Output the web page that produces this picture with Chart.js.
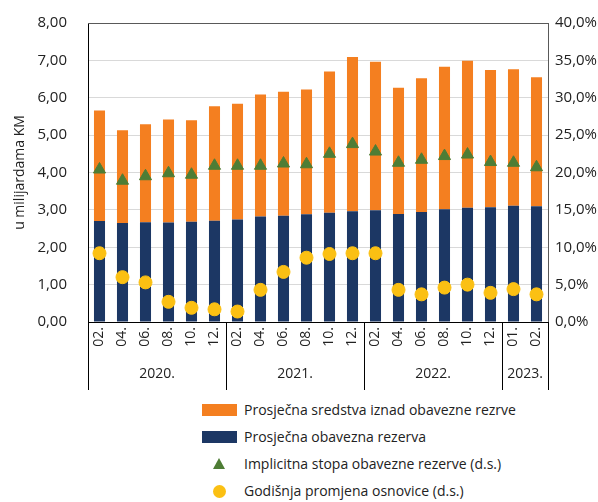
<!DOCTYPE html>
<html>
<head>
<meta charset="utf-8">
<script src="https://cdn.jsdelivr.net/npm/chart.js@4.4.1/dist/chart.umd.min.js"></script>
<style>
  body { margin: 0; background: #fff; font-family: "Open Sans", sans-serif; }
  #wrap { position: relative; width: 598px; height: 502px; }
  #chart { position: absolute; left: 0; top: 0; }
  .leg { position: absolute; left: 0; height: 20px; font-size: 14px; color: #222; line-height: 20px; white-space: nowrap; }
  .leg span.txt { position: absolute; left: 244px; top: 0; }
  .box { position: absolute; left: 202px; top: 4px; width: 35px; height: 12px; }
  .tri { position: absolute; left: 213px; top: 4px; width: 0; height: 0;
         border-left: 6px solid transparent; border-right: 6px solid transparent; border-bottom: 11px solid #4E7D35; }
  .dot { position: absolute; left: 213px; top: 4px; width: 13px; height: 13px; border-radius: 50%; background: #FBC013; }
</style>
</head>
<body>
<div id="wrap">
  <canvas id="chart" width="598" height="400"></canvas>
  <div class="leg" style="top:400px"><div class="box" style="background:#F47F20"></div><span class="txt">Prosječna sredstva iznad obavezne rezrve</span></div>
  <div class="leg" style="top:427px"><div class="box" style="background:#1C3764"></div><span class="txt">Prosječna obavezna rezerva</span></div>
  <div class="leg" style="top:454px"><div class="tri"></div><span class="txt">Implicitna stopa obavezne rezerve (d.s.)</span></div>
  <div class="leg" style="top:481px"><div class="dot"></div><span class="txt">Godišnja promjena osnovice (d.s.)</span></div>
</div>
<script>
// months on the x axis, grouped by year
const months = ['02.', '04.', '06.', '08.', '10.', '12.',
                '02.', '04.', '06.', '08.', '10.', '12.',
                '02.', '04.', '06.', '08.', '10.', '12.',
                '01.', '02.'];
const years = ['2020.', '2021.', '2022.', '2023.'];
const yearSpans = [6, 6, 6, 2];

// billions KM
const obaveznaRezerva = [2.70, 2.65, 2.67, 2.66, 2.68, 2.71, 2.74, 2.82, 2.84, 2.88,
                         2.92, 2.96, 2.99, 2.89, 2.94, 3.02, 3.06, 3.07, 3.11, 3.10];
const iznadRezerve = [2.96, 2.48, 2.62, 2.76, 2.72, 3.06, 3.10, 3.27, 3.32, 3.34,
                      3.78, 4.13, 3.97, 3.38, 3.58, 3.81, 3.93, 3.67, 3.65, 3.45];

// percent, right axis
const implicitnaStopa = [20.4, 18.9, 19.5, 19.9, 19.7, 20.9, 20.9, 20.9, 21.2, 21.1,
                         22.5, 23.8, 22.8, 21.3, 21.7, 22.2, 22.4, 21.4, 21.3, 20.7];
const godisnjaPromjena = [9.2, 6.0, 5.3, 2.7, 1.9, 1.7, 1.4, 4.3, 6.7, 8.6,
                          9.1, 9.2, 9.2, 4.3, 3.7, 4.6, 5.0, 3.9, 4.4, 3.7];

const FONT = '"Open Sans", sans-serif';

// draws the top frame line, year separators and year labels
const yearAxisPlugin = {
    id: 'yearAxis',
    afterDraw(chart) {
        const ctx = chart.ctx;
        const area = chart.chartArea;
        const slot = (area.right - area.left) / months.length;
        ctx.save();
        ctx.strokeStyle = '#595959';
        ctx.lineWidth = 1;
        ctx.beginPath();
        ctx.moveTo(area.left, area.top + 0.5);
        ctx.lineTo(area.right, area.top + 0.5);
        ctx.stroke();

        ctx.strokeStyle = '#000';
        ctx.fillStyle = '#222';
        ctx.font = '14px ' + FONT;
        ctx.textAlign = 'center';
        ctx.textBaseline = 'middle';
        let idx = 0;
        const edges = [0];
        years.forEach((y, i) => {
            const start = idx;
            idx += yearSpans[i];
            edges.push(idx);
            const mid = area.left + slot * (start + idx) / 2;
            ctx.fillText(y, mid, 374);
        });
        edges.forEach(e => {
            const px = Math.round(area.left + slot * e) + 0.5;
            ctx.beginPath();
            ctx.moveTo(px, area.bottom);
            ctx.lineTo(px, 390);
            ctx.stroke();
        });
        ctx.restore();
    }
};

new Chart(document.getElementById('chart').getContext('2d'), {
    type: 'bar',
    data: {
        labels: months,
        datasets: [
            {
                type: 'line',
                label: 'Implicitna stopa obavezne rezerve (d.s.)',
                data: implicitnaStopa,
                yAxisID: 'y1',
                showLine: false,
                pointStyle: 'triangle',
                pointRadius: 7,
                pointBackgroundColor: '#4E7D35',
                pointBorderColor: '#4E7D35',
                order: 0
            },
            {
                type: 'line',
                label: 'Godišnja promjena osnovice (d.s.)',
                data: godisnjaPromjena,
                yAxisID: 'y1',
                showLine: false,
                pointStyle: 'circle',
                pointRadius: 6.5,
                pointBackgroundColor: '#FBC013',
                pointBorderColor: '#FBC013',
                order: 0
            },
            {
                label: 'Prosječna obavezna rezerva',
                data: obaveznaRezerva,
                backgroundColor: '#1C3764',
                stack: 's',
                order: 1
            },
            {
                label: 'Prosječna sredstva iznad obavezne rezrve',
                data: iznadRezerve,
                backgroundColor: '#F47F20',
                stack: 's',
                order: 1
            }
        ]
    },
    options: {
        responsive: false,
        animation: false,
        layout: { padding: { top: 23, left: 0, right: 0, bottom: 0 } },
        datasets: { bar: { categoryPercentage: 1, barPercentage: 0.48 } },
        plugins: {
            legend: { display: false },
            tooltip: { enabled: false }
        },
        scales: {
            x: {
                stacked: true,
                grid: { display: false, drawTicks: false },
                border: { color: '#000' },
                ticks: {
                    autoSkip: false,
                    minRotation: 90,
                    maxRotation: 90,
                    padding: 5,
                    color: '#222',
                    font: { family: FONT, size: 14 }
                },
                afterFit(scale) { scale.height = 78; }
            },
            y: {
                stacked: true,
                min: 0,
                max: 8,
                position: 'left',
                grid: { color: '#d9d9d9', tickLength: 20, tickColor: 'rgba(0,0,0,0)' },
                border: { color: '#000' },
                ticks: {
                    stepSize: 1,
                    padding: 1,
                    color: '#222',
                    font: { family: FONT, size: 15 },
                    callback: v => v.toFixed(2).replace('.', ',')
                },
                title: {
                    display: true,
                    text: 'u milijardama KM',
                    color: '#222',
                    padding: { top: 12, bottom: 0 },
                    font: { family: FONT, size: 14 }
                },
                afterFit(scale) { scale.width = 88; }
            },
            y1: {
                min: 0,
                max: 40,
                position: 'right',
                grid: { display: false, drawTicks: false },
                border: { color: '#595959' },
                ticks: {
                    stepSize: 5,
                    padding: 7,
                    color: '#222',
                    font: { family: FONT, size: 15 },
                    callback: v => v.toFixed(1).replace('.', ',') + '%'
                },
                afterFit(scale) { scale.width = 50; }
            }
        }
    },
    plugins: [yearAxisPlugin]
});
</script>
</body>
</html>
